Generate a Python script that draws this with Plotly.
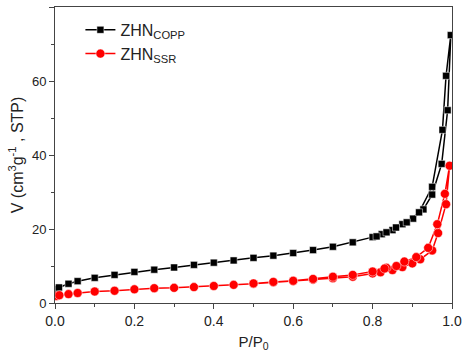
import plotly.graph_objects as go

# ZHN_COPP isotherm
p_ads_copp = [0.005, 0.01, 0.034, 0.057, 0.10, 0.15, 0.20, 0.25, 0.30, 0.35, 0.40, 0.45, 0.50, 0.55,
              0.60, 0.65, 0.70, 0.75, 0.80, 0.823, 0.85, 0.875, 0.902, 0.928, 0.95, 0.974, 0.989, 0.997]
v_ads_copp = [3.8, 4.2, 5.2, 5.9, 6.8, 7.6, 8.4, 9.0, 9.6, 10.3, 10.9, 11.5, 12.2, 12.8,
              13.5, 14.3, 15.2, 16.4, 17.8, 18.6, 19.7, 21.3, 22.8, 25.3, 29.3, 37.6, 52.1, 72.4]
p_des_copp = [0.985, 0.976, 0.95, 0.917, 0.886, 0.859, 0.835, 0.81]
v_des_copp = [61.4, 46.8, 31.4, 24.5, 21.8, 20.4, 19.1, 18.0]

# ZHN_SSR isotherm
p_ads_ssr = [0.004, 0.011, 0.034, 0.057, 0.10, 0.15, 0.20, 0.25, 0.30, 0.35, 0.40, 0.45, 0.50, 0.55,
             0.60, 0.65, 0.70, 0.75, 0.80, 0.82, 0.85, 0.875, 0.90, 0.92, 0.95, 0.965, 0.985, 0.994]
v_ads_ssr = [1.9, 2.1, 2.4, 2.7, 3.1, 3.3, 3.7, 4.0, 4.1, 4.3, 4.6, 4.9, 5.2, 5.6,
             5.9, 6.3, 6.7, 7.1, 8.0, 8.3, 8.9, 9.7, 10.7, 11.8, 14.2, 18.9, 26.7, 37.1]
p_des_ssr = [0.982, 0.963, 0.94, 0.91, 0.88, 0.86, 0.835, 0.83, 0.80, 0.75, 0.70, 0.65, 0.60, 0.55, 0.50]
v_des_ssr = [29.5, 21.3, 14.9, 12.4, 11.2, 10.0, 9.5, 9.3, 8.5, 7.6, 7.1, 6.5, 6.0, 5.7, 5.3]

x_ticks = [0.0, 0.2, 0.4, 0.6, 0.8, 1.0]
y_ticks = [0, 20, 40, 60, 80]

font_family = "Arial, Liberation Sans, sans-serif"

fig = go.Figure()
fig.add_trace(go.Scatter(
    x=p_ads_copp + p_des_copp, y=v_ads_copp + v_des_copp,
    mode="lines+markers", name="ZHN<sub>COPP</sub>",
    line=dict(color="black", width=1.5),
    marker=dict(symbol="square", size=7, color="black", line=dict(color="white", width=0.5)),
))
fig.add_trace(go.Scatter(
    x=p_ads_ssr + p_des_ssr, y=v_ads_ssr + v_des_ssr,
    mode="lines+markers", name="ZHN<sub>SSR</sub>",
    line=dict(color="red", width=1.5),
    marker=dict(symbol="circle", size=9, color="red", line=dict(color="white", width=0.5)),
))

axis_common = dict(
    showline=True, linecolor="#444", linewidth=1, mirror=True,
    ticks="outside", ticklen=5, tickwidth=1, tickcolor="#444",
    showgrid=False, zeroline=False, automargin=False,
)

fig.update_xaxes(
    range=[0, 1], tickvals=x_ticks, tickformat=".1f",
    tickfont=dict(family=font_family, size=14, color="#222"),
    minor=dict(dtick=0.1, ticks="outside", ticklen=3, tickcolor="#444"),
    title=dict(text="P/P<sub>0</sub>", font=dict(family=font_family, size=15, color="#222"), standoff=8),
    **axis_common,
)
fig.update_yaxes(
    range=[0, 80], tickvals=y_ticks,
    tickfont=dict(family=font_family, size=13, color="#222"),
    minor=dict(dtick=10, ticks="outside", ticklen=3, tickcolor="#444"),
    title=dict(text="V (cm<sup>3</sup>g<sup>-1</sup> , STP)", font=dict(family=font_family, size=16, color="#222"), standoff=4),
    **axis_common,
)

fig.update_layout(
    width=464, height=353,
    margin=dict(l=55, r=12, t=7, b=50),
    paper_bgcolor="white", plot_bgcolor="white",
    font=dict(family=font_family, color="#222"),
    legend=dict(x=0.064, y=0.98, xanchor="left", yanchor="top",
                bgcolor="rgba(0,0,0,0)", font=dict(family=font_family, size=16, color="#222"),
                tracegroupgap=0),
    showlegend=True,
)

fig.write_html("out.html", config={"displayModeBar": False},
               post_script="document.body.style.margin='0';document.body.style.overflow='hidden';")
